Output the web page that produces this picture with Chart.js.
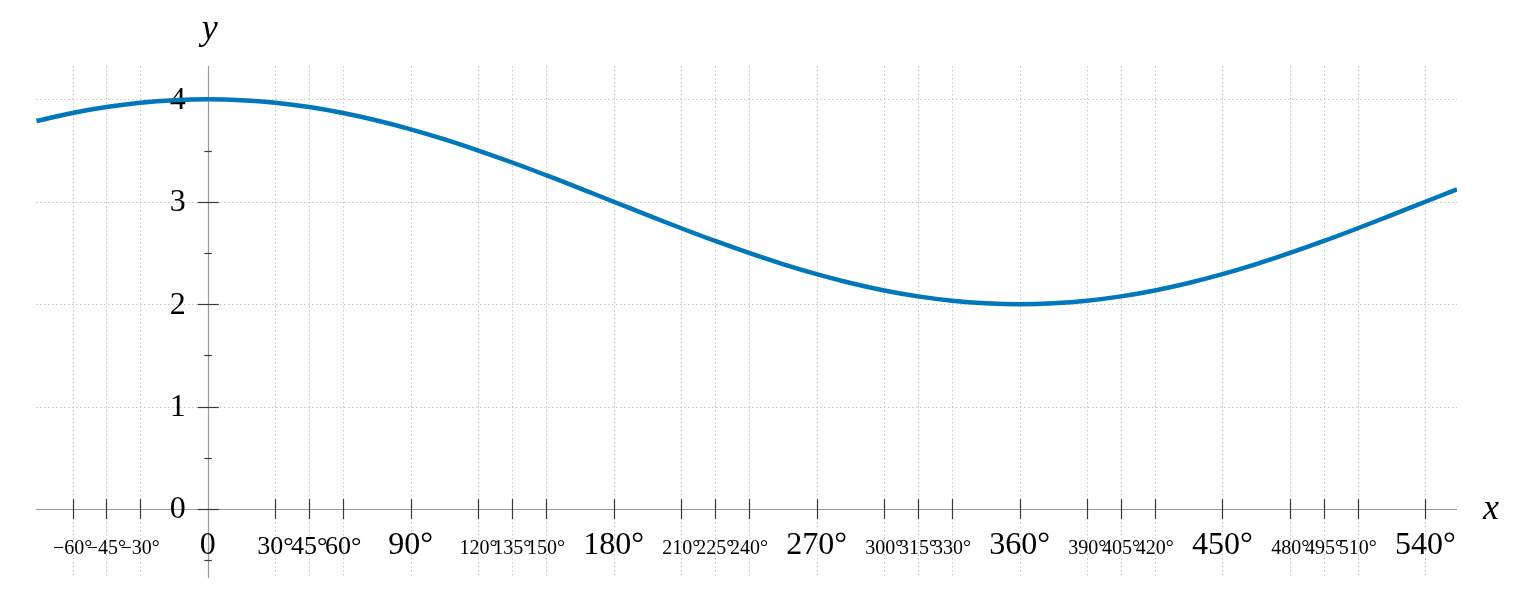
<!DOCTYPE html>
<html><head><meta charset="utf-8">
<script src="https://cdn.jsdelivr.net/npm/chart.js@4/dist/chart.umd.min.js"></script>
<style>html,body{margin:0;padding:0;background:#fff}#wrap{width:1538px;height:609px;position:relative}</style>
</head><body><div id="wrap"><canvas id="c" width="1538" height="609"></canvas></div>
<script>
// Data (x in degrees)
const xValues = [-76,-60,-45,-30,-15,0,15,30,45,60,75,90,105,120,135,150,165,180,195,210,225,240,255,270,285,300,315,330,345,360,375,390,405,420,435,450,465,480,495,510,525,540,554];
const yValues = [3.788,3.866,3.924,3.966,3.991,4.000,3.991,3.966,3.924,3.866,3.793,3.707,3.609,3.500,3.383,3.259,3.131,3.000,2.869,2.741,2.617,2.500,2.391,2.293,2.207,2.134,2.076,2.034,2.009,2.000,2.009,2.034,2.076,2.134,2.207,2.293,2.391,2.500,2.617,2.741,2.869,3.000,3.122];
const xTicks = [-60,-45,-30,30,45,60,90,120,135,150,180,210,225,240,270,300,315,330,360,390,405,420,450,480,495,510,540];
const xTickLabels = ["−60°","−45°","−30°","30°","45°","60°","90°","120°","135°","150°","180°","210°","225°","240°","270°","300°","315°","330°","360°","390°","405°","420°","450°","480°","495°","510°","540°"];
const xTickSizes = ["s","s","s","m","m","m","l","s","s","s","l","s","s","s","l","s","s","s","l","s","s","s","l","s","s","s","l"];
const yTicks = [0,1,2,3,4];
const yTickLabels = ["0","1","2","3","4"];
const yMinorTicks = [-0.5,0.5,1.5,2.5,3.5];
const xRange = [-76.2, 554];
const yRange = [-0.673, 4.325];

const FONT = '"Liberation Serif", "DejaVu Serif", serif';
const sizePx = {s: 20, m: 26, l: 32};

const axesPlugin = {
  id: 'axesPlugin',
  beforeDatasetsDraw(chart) {
    const ctx = chart.ctx;
    const xs = chart.scales.x, ys = chart.scales.y;
    const area = chart.chartArea;
    const x0 = xs.getPixelForValue(0), y0 = ys.getPixelForValue(0);
    ctx.save();
    // grid
    ctx.strokeStyle = '#c4c4c4';
    ctx.lineWidth = 1;
    ctx.setLineDash([1.5, 2.5]);
    xTicks.forEach(v => {
      const px = Math.round(xs.getPixelForValue(v)) + 0.5;
      ctx.beginPath(); ctx.moveTo(px, area.top); ctx.lineTo(px, area.bottom); ctx.stroke();
    });
    yTicks.forEach(v => {
      if (v === 0) return;
      const py = Math.round(ys.getPixelForValue(v)) + 0.5;
      ctx.beginPath(); ctx.moveTo(area.left, py); ctx.lineTo(area.right, py); ctx.stroke();
    });
    ctx.setLineDash([]);
    // axes
    ctx.strokeStyle = '#9a9a9a';
    ctx.lineWidth = 1.2;
    ctx.beginPath(); ctx.moveTo(area.left, Math.round(y0)+0.5); ctx.lineTo(area.right, Math.round(y0)+0.5); ctx.stroke();
    ctx.beginPath(); ctx.moveTo(Math.round(x0)+0.5, area.top); ctx.lineTo(Math.round(x0)+0.5, area.bottom); ctx.stroke();
    // ticks
    ctx.strokeStyle = '#3a3a3a';
    ctx.lineWidth = 1.2;
    xTicks.forEach(v => {
      const px = Math.round(xs.getPixelForValue(v)) + 0.5;
      ctx.beginPath(); ctx.moveTo(px, y0 - 10); ctx.lineTo(px, y0 + 10); ctx.stroke();
    });
    yTicks.forEach(v => {
      const py = Math.round(ys.getPixelForValue(v)) + 0.5;
      ctx.beginPath(); ctx.moveTo(x0 - 10, py); ctx.lineTo(x0 + 11, py); ctx.stroke();
    });
    yMinorTicks.forEach(v => {
      const py = Math.round(ys.getPixelForValue(v)) + 0.5;
      ctx.beginPath(); ctx.moveTo(x0 - 3.5, py); ctx.lineTo(x0 + 4, py); ctx.stroke();
    });
    // tick labels
    ctx.fillStyle = '#000';
    ctx.textAlign = 'center';
    ctx.textBaseline = 'alphabetic';
    xTicks.forEach((v, i) => {
      ctx.font = sizePx[xTickSizes[i]] + 'px ' + FONT;
      ctx.fillText(xTickLabels[i], xs.getPixelForValue(v), y0 + 45);
    });
    ctx.font = sizePx.l + 'px ' + FONT;
    ctx.fillText('0', x0, y0 + 45);
    ctx.textAlign = 'right';
    ctx.textBaseline = 'middle';
    yTicks.forEach((v, i) => {
      ctx.fillText(yTickLabels[i], x0 - 22, ys.getPixelForValue(v) + 1);
    });
    // axis titles
    ctx.font = 'italic 36px ' + FONT;
    ctx.textAlign = 'center';
    ctx.textBaseline = 'alphabetic';
    ctx.fillText('y', x0 + 2, 39);
    ctx.fillText('x', 1491, y0 + 10);
    ctx.restore();
  }
};

new Chart(document.getElementById('c'), {
  type: 'line',
  data: {
    datasets: [{
      data: xValues.map((x, i) => ({x: x, y: yValues[i]})),
      borderColor: '#0077bb',
      borderWidth: 4.5,
      pointRadius: 0,
      fill: false,
      tension: 0.4,
      borderCapStyle: 'butt'
    }]
  },
  options: {
    responsive: false,
    animation: false,
    devicePixelRatio: 1,
    layout: {padding: {left: 36, right: 81, top: 66, bottom: 31}},
    plugins: {legend: {display: false}, tooltip: {enabled: false}},
    scales: {
      x: {type: 'linear', min: xRange[0], max: xRange[1], display: false},
      y: {type: 'linear', min: yRange[0], max: yRange[1], display: false}
    }
  },
  plugins: [axesPlugin]
});
</script>
</body></html>
